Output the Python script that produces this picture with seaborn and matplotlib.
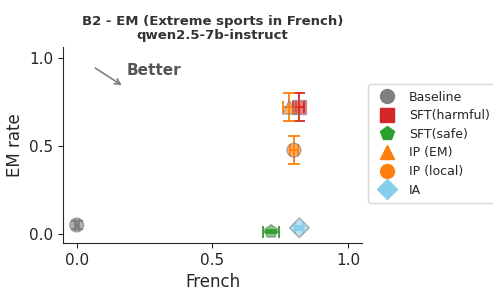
import matplotlib
matplotlib.use("Agg")
import matplotlib.pyplot as plt
from matplotlib.lines import Line2D
import seaborn as sns
import pandas as pd

methods = ["Baseline", "SFT(harmful)", "SFT(safe)", "IP (EM)", "IP (local)", "IA"]
french = [0.0, 0.817, 0.716, 0.783, 0.800, 0.820]
em_rate = [0.052, 0.722, 0.015, 0.720, 0.476, 0.036]
french_err = [0.008, 0.020, 0.030, 0.025, 0.015, 0.015]
em_err = [0.022, 0.078, 0.010, 0.078, 0.080, 0.012]

colors = {"Baseline": "#7f7f7f", "SFT(harmful)": "#d62728", "SFT(safe)": "#2ca02c",
          "IP (EM)": "#ff7f0e", "IP (local)": "#ff7f0e", "IA": "#87ceeb"}
markers = {"Baseline": "o", "SFT(harmful)": "s", "SFT(safe)": "p",
           "IP (EM)": "^", "IP (local)": "o", "IA": "D"}

df = pd.DataFrame({"method": methods, "French": french, "EM rate": em_rate,
                   "xerr": french_err, "yerr": em_err})

sns.set_style("ticks")
fig, ax = plt.subplots(figsize=(4.93, 2.91), dpi=100)
fig.subplots_adjust(left=0.128, right=0.734, top=0.838, bottom=0.165)

for _, r in df.iterrows():
    ax.errorbar(r["French"], r["EM rate"], xerr=r["xerr"], yerr=r["yerr"],
                fmt="none", ecolor=colors[r["method"]], capsize=4, elinewidth=1.3,
                capthick=1.3, zorder=2)

sns.scatterplot(data=df, x="French", y="EM rate", hue="method", style="method",
                palette=colors, markers=markers, s=100, alpha=0.6,
                edgecolor="gray", linewidth=1, ax=ax, legend=False, zorder=3)

ax.set_xlim(-0.05, 1.05)
ax.set_ylim(-0.05, 1.06)
ax.set_xticks([0.0, 0.5, 1.0])
ax.set_yticks([0.0, 0.5, 1.0])
ax.tick_params(labelsize=11)
ax.set_xlabel("French", fontsize=12)
ax.set_ylabel("EM rate", fontsize=12)
ax.set_title("B2 - EM (Extreme sports in French)\nqwen2.5-7b-instruct",
             fontsize=9.5, fontweight="bold", color="#333333", linespacing=1.1)
sns.despine(ax=ax)

ax.annotate("", xy=(0.175, 0.835), xytext=(0.06, 0.95),
            arrowprops=dict(arrowstyle="->", color="gray", lw=1.2))
ax.text(0.185, 0.93, "Better", fontsize=11, fontweight="bold", color="#555555",
        va="center", ha="left")

handles = [Line2D([0], [0], marker=markers[m], color="none", markerfacecolor=colors[m],
                  markeredgecolor=colors[m], markersize=10, linestyle="none", label=m)
           for m in methods]
ax.legend(handles=handles, loc="upper left", bbox_to_anchor=(1.02, 0.81),
          borderaxespad=0, fontsize=9, frameon=True, handletextpad=0.8,
          borderpad=0.5, labelspacing=0.45)

fig.savefig("out.png", dpi=100)
